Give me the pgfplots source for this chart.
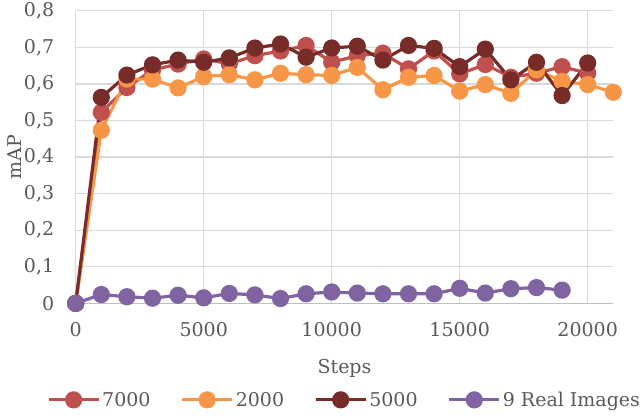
\documentclass[border=0pt]{standalone}
\usepackage{fontspec}
\setmainfont{DejaVu Serif}
\usepackage{pgfplots}
\pgfplotsset{compat=1.18}
\definecolor{cA}{HTML}{C0504D}
\definecolor{cB}{HTML}{F79646}
\definecolor{cC}{HTML}{772C2A}
\definecolor{cD}{HTML}{8064A2}
\definecolor{txt}{HTML}{595959}
\definecolor{grd}{HTML}{D9D9D9}
\definecolor{axl}{HTML}{BFBFBF}
\newcommand{\chartfont}{\fontsize{19}{22}\selectfont}
\begin{document}
\begin{tikzpicture}
\useasboundingbox (0pt,0pt) rectangle (640pt,416pt);
\begin{axis}[
  at={(75.7pt,112.7pt)}, anchor=south west,
  scale only axis, width=537.6pt, height=292.6pt,
  xmin=0, xmax=21000, ymin=0, ymax=0.8,
  xtick={0,5000,10000,15000,20000},
  ytick={0,0.1,0.2,0.3,0.4,0.5,0.6,0.7,0.8},
  scaled x ticks=false,
  axis x line*=bottom, axis y line*=left,
  x axis line style={-, draw=axl, line width=1.3pt},
  y axis line style={draw=none},
  tick style={draw=none},
  xmajorgrids, ymajorgrids,
  major grid style={draw=grd, line width=1.3pt},
  clip=false,
  /pgf/number format/assume math mode=true,
  xticklabel style={font=\chartfont, text=txt, yshift=-16pt, /pgf/number format/1000 sep={}},
  yticklabel style={font=\chartfont, text=txt, xshift=-18pt, /pgf/number format/.cd, fixed, precision=1, use comma},
  xlabel={Steps}, ylabel={mAP},
  xlabel style={font=\chartfont, text=txt, at={(axis description cs:0.5,-0.221)}, anchor=center},
  ylabel style={font=\chartfont, text=txt, at={(axis description cs:-0.114,0.5)}, anchor=center},
  legend columns=4,
  legend style={draw=none, fill=none, font=\chartfont, text=txt,
    at={(0.5,-0.33)}, anchor=center,
    /tikz/every even column/.append style={column sep=28pt}},
  legend image code/.code={\draw[mark repeat=2, mark phase=2] plot coordinates {(0pt,0pt) (25pt,0pt) (50pt,0pt)};},
  every axis plot/.append style={line width=3.2pt, mark=*, mark size=7pt},
]
\addplot[color=cA, mark options={fill=cA, draw=cA}] coordinates {
(0,0) (1000,0.522) (2000,0.590) (3000,0.638) (4000,0.654) (5000,0.668) (6000,0.655)
(7000,0.677) (8000,0.690) (9000,0.705) (10000,0.659) (11000,0.677) (12000,0.684)
(13000,0.641) (14000,0.690) (15000,0.627) (16000,0.653) (17000,0.618) (18000,0.629)
(19000,0.647) (20000,0.629)};
\addlegendentry{7000}
\addplot[color=cB, mark options={fill=cB, draw=cB}] coordinates {
(0,0) (1000,0.473) (2000,0.613) (3000,0.613) (4000,0.589) (5000,0.620) (6000,0.625)
(7000,0.611) (8000,0.629) (9000,0.625) (10000,0.623) (11000,0.645) (12000,0.584)
(13000,0.618) (14000,0.623) (15000,0.580) (16000,0.598) (17000,0.574) (18000,0.638)
(19000,0.607) (20000,0.598) (21000,0.577)};
\addlegendentry{2000}
\addplot[color=cC, mark options={fill=cC, draw=cC}] coordinates {
(0,0) (1000,0.563) (2000,0.624) (3000,0.652) (4000,0.665) (5000,0.659) (6000,0.671)
(7000,0.698) (8000,0.709) (9000,0.673) (10000,0.698) (11000,0.703) (12000,0.665)
(13000,0.705) (14000,0.697) (15000,0.647) (16000,0.695) (17000,0.611) (18000,0.659)
(19000,0.568) (20000,0.657)};
\addlegendentry{5000}
\addplot[color=cD, mark options={fill=cD, draw=cD}] coordinates {
(0,0) (1000,0.024) (2000,0.018) (3000,0.014) (4000,0.022) (5000,0.015) (6000,0.027)
(7000,0.023) (8000,0.013) (9000,0.026) (10000,0.031) (11000,0.028) (12000,0.026)
(13000,0.026) (14000,0.026) (15000,0.041) (16000,0.028) (17000,0.040) (18000,0.043)
(19000,0.036)};
\addlegendentry{9 Real Images}
\end{axis}
\end{tikzpicture}
\end{document}
